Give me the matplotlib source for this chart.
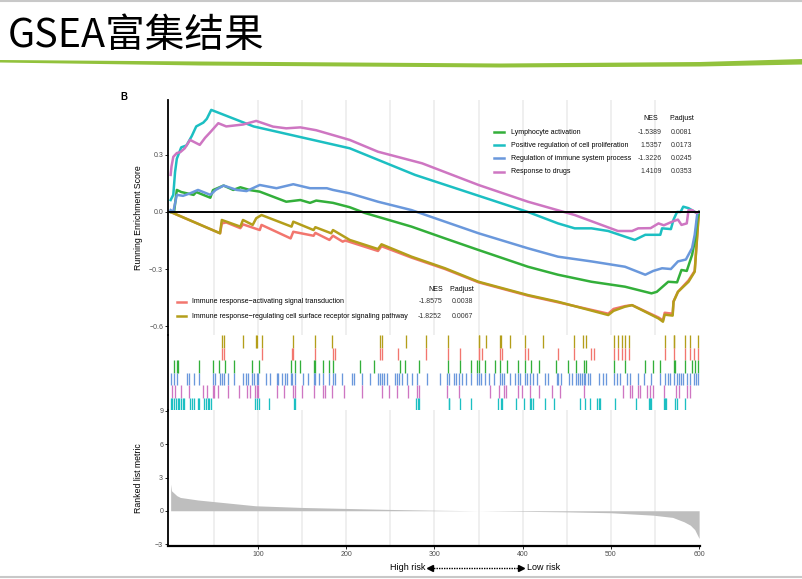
import matplotlib
matplotlib.use('Agg')
import matplotlib.pyplot as plt
from matplotlib.lines import Line2D
from matplotlib.patches import Polygon

plt.rcParams['font.family'] = ['Liberation Sans', 'DejaVu Sans']

W, H = 803, 579

# running enrichment score curves (rank, score)
green_x = [1, 5, 8, 13, 27, 30, 46, 49, 61, 72, 80, 91, 102, 132, 148, 159, 166, 185, 204, 221, 274, 312, 350,
           406, 440, 478, 516, 546, 552, 565, 575, 580, 586, 592, 595, 598, 600]
green_y = [0.0, 0.005, 0.116, 0.105, 0.09, 0.105, 0.075, 0.115, 0.139, 0.116, 0.13, 0.115, 0.107, 0.054, 0.063,
           0.048, 0.06, 0.048, 0.025, -0.005, -0.077, -0.139, -0.2, -0.288, -0.33, -0.367, -0.393, -0.428, -0.42,
           -0.367, -0.37, -0.305, -0.31, -0.226, -0.156, -0.033, 0.0]

cyan_x = [1, 4, 6, 8, 13, 19, 25, 30, 38, 42, 47, 95, 204, 278, 406, 440, 459, 478, 497, 527, 539, 556, 558,
          568, 571, 575, 579, 582, 588, 597, 600]
cyan_y = [0.063, 0.09, 0.21, 0.28, 0.34, 0.35, 0.40, 0.45, 0.47, 0.49, 0.537, 0.45, 0.335, 0.195, 0.0, -0.06,
          -0.086, -0.086, -0.10, -0.147, -0.12, -0.12, -0.086, -0.09, -0.04, 0.0, 0.0, 0.028, 0.02, -0.005, 0.0]

blue_x = [1, 4, 8, 15, 23, 32, 46, 52, 61, 76, 87, 102, 121, 140, 159, 178, 185, 204, 236, 274, 312, 350, 406,
          440, 478, 516, 539, 548, 558, 568, 576, 585, 592, 595, 598, 600]
blue_y = [0.01, 0.0, 0.09, 0.085, 0.098, 0.116, 0.09, 0.116, 0.139, 0.116, 0.11, 0.142, 0.125, 0.146, 0.125,
          0.125, 0.116, 0.098, 0.054, 0.01, -0.051, -0.112, -0.191, -0.235, -0.26, -0.288, -0.33, -0.31, -0.296,
          -0.30, -0.26, -0.25, -0.19, -0.12, -0.005, 0.0]

pink_x = [1, 2, 4, 8, 12, 17, 23, 34, 40, 46, 55, 64, 83, 98, 117, 132, 148, 166, 204, 236, 286, 350, 406, 459,
          508, 524, 531, 545, 554, 560, 570, 576, 580, 586, 588, 592, 597, 600]
pink_y = [0.195, 0.24, 0.29, 0.31, 0.315, 0.335, 0.379, 0.353, 0.39, 0.42, 0.467, 0.45, 0.46, 0.479, 0.449, 0.44,
          0.445, 0.43, 0.379, 0.317, 0.256, 0.142, 0.054, -0.016, -0.10, -0.10, -0.086, -0.085, -0.06, -0.07,
          -0.05, -0.04, -0.068, -0.06, 0.01, 0.01, -0.005, 0.0]

red_x = [1, 57, 59, 64, 80, 83, 102, 104, 137, 140, 163, 165, 181, 185, 196, 199, 236, 240, 274, 312, 350, 406,
         440, 497, 503, 516, 524, 554, 559, 561, 570, 571, 576, 588, 595, 599, 600]
red_y = [0.0, -0.112, -0.06, -0.055, -0.085, -0.065, -0.095, -0.068, -0.139, -0.104, -0.125, -0.11, -0.147,
         -0.125, -0.156, -0.15, -0.205, -0.18, -0.24, -0.30, -0.37, -0.44, -0.475, -0.535, -0.51, -0.495, -0.49,
         -0.555, -0.57, -0.53, -0.535, -0.47, -0.42, -0.36, -0.31, -0.04, 0.0]

olive_x = [1, 57, 59, 80, 83, 94, 98, 104, 138, 140, 163, 165, 183, 185, 204, 236, 240, 274, 312, 350, 406, 440,
           497, 503, 516, 524, 554, 559, 561, 570, 571, 576, 588, 595, 599, 600]
olive_y = [0.0, -0.112, -0.042, -0.077, -0.042, -0.068, -0.033, -0.016, -0.077, -0.051, -0.095, -0.08, -0.112,
           -0.095, -0.147, -0.195, -0.17, -0.235, -0.296, -0.367, -0.437, -0.472, -0.542, -0.52, -0.498, -0.49,
           -0.56, -0.577, -0.54, -0.545, -0.472, -0.42, -0.367, -0.314, -0.05, 0.0]

# hit positions per gene set
hits_olive = [59, 62, 83, 98, 99, 104, 140, 165, 184, 238, 240, 268, 290, 315, 350, 351, 358, 374, 376, 386, 403,
              423, 458, 468, 472, 503, 508, 513, 516, 521, 561, 571, 572, 584, 590, 599]
hits_red = [59, 62, 104, 138, 140, 165, 185, 187, 238, 240, 259, 290, 315, 329, 350, 351, 354, 374, 377, 403, 406,
            440, 458, 478, 481, 503, 508, 513, 516, 521, 561, 571, 584, 590, 594, 599]
hits_green = [5, 8, 9, 33, 49, 56, 63, 73, 93, 101, 137, 142, 148, 163, 165, 174, 180, 185, 216, 231, 261, 267,
              282, 315, 329, 342, 348, 351, 357, 369, 374, 382, 395, 403, 410, 418, 438, 451, 461, 470, 472, 504,
              516, 539, 548, 556, 571, 573, 584, 592, 595, 599]
hits_blue = [1, 5, 8, 19, 22, 27, 33, 49, 51, 57, 59, 61, 66, 73, 83, 86, 89, 93, 95, 99, 100, 109, 114, 121, 123,
             127, 131, 133, 137, 139, 142, 151, 157, 163, 165, 169, 174, 180, 185, 187, 195, 206, 209, 218, 227,
             236, 238, 240, 243, 246, 255, 258, 260, 263, 269, 274, 280, 291, 306, 314, 316, 322, 325, 328, 331,
             336, 342, 348, 351, 353, 357, 362, 368, 374, 377, 379, 386, 391, 395, 397, 403, 405, 408, 412, 416,
             425, 429, 439, 440, 444, 452, 456, 461, 463, 465, 467, 469, 471, 474, 476, 486, 491, 495, 503, 507,
             510, 518, 522, 531, 537, 546, 556, 561, 565, 567, 571, 575, 577, 580, 582, 586, 590, 594, 597, 599]
hits_pink = [3, 6, 13, 22, 38, 42, 49, 50, 55, 66, 78, 87, 91, 97, 99, 100, 121, 129, 140, 142, 150, 163, 174, 176,
             184, 197, 218, 240, 248, 257, 270, 280, 282, 314, 328, 363, 373, 379, 381, 395, 399, 408, 418, 433,
             442, 470, 514, 522, 524, 531, 533, 541, 544, 548, 560, 574, 577, 586, 590]
hits_cyan = [1, 3, 5, 7, 9, 11, 13, 15, 16, 23, 25, 27, 32, 33, 39, 41, 43, 45, 47, 97, 99, 101, 113, 141, 142,
             279, 281, 283, 316, 317, 329, 342, 372, 375, 377, 393, 401, 408, 410, 412, 425, 435, 465, 471, 476,
             484, 486, 488, 505, 529, 543, 544, 546, 560, 561, 563, 573, 575, 584]

# ranked list metric
metric_x = [1, 2, 8, 12, 32, 47, 97, 149, 199, 249, 300, 350, 400, 450, 500, 548, 570, 583, 590, 595, 600]
metric_y = [2.4, 1.8, 1.36, 1.2, 0.97, 0.85, 0.45, 0.3, 0.21, 0.12, 0.05, 0.0, -0.05, -0.1, -0.18, -0.4, -0.6,
            -1.0, -1.3, -1.7, -2.5]

legend_top = ['Lymphocyte activation', 'Positive regulation of cell proliferation',
              'Regulation of immune system process', 'Response to drugs']
nes_top = ['-1.5389', '1.5357', '-1.3226', '1.4109']
padj_top = ['0.0081', '0.0173', '0.0245', '0.0353']
legend_bot = ['Immune response\u2212activating signal transduction',
              'Immune response\u2212regulating cell surface receptor signaling pathway']
nes_bot = ['-1.8575', '-1.8252']
padj_bot = ['0.0038', '0.0067']

C_GREEN = '#33AF3A'
C_CYAN = '#1CBFC2'
C_BLUE = '#6A98DC'
C_PINK = '#CE76C2'
C_RED = '#F2766E'
C_OLIVE = '#B49E1A'


def fx(px):
    return px / W


def fy(py):
    return 1 - py / H


fig = plt.figure(figsize=(W / 100, H / 100), dpi=100)

# slide decoration
fig.add_artist(Line2D([0, 1], [fy(0.8), fy(0.8)], color='#C8C8C8', lw=1.5))
fig.add_artist(Line2D([0, 1], [fy(577), fy(577)], color='#C8C8C8', lw=1.5))
swoosh = [(0, 60), (200, 61.5), (500, 63.5), (700, 62), (803, 59),
          (803, 64.5), (700, 66.5), (500, 67.5), (200, 65.5), (0, 62.5)]
fig.add_artist(Polygon([(fx(a), fy(b)) for a, b in swoosh], closed=True, facecolor='#92C23C',
                       edgecolor='none', transform=fig.transFigure))
fig.text(fx(8), fy(36), 'GSEA富集结果', fontsize=28.5, va='center', ha='left',
         family=['Noto Sans CJK SC', 'DejaVu Sans'], color='black')
fig.text(fx(120), fy(97), 'B', fontsize=7, fontweight='bold', va='center', ha='left')

L, R = 168, 700
xlim = (-2, 601)

ax1 = fig.add_axes([fx(L), fy(335), (R - L) / W, 235 / H])
ax2 = fig.add_axes([fx(L), fy(410), (R - L) / W, 75 / H])
ax3 = fig.add_axes([fx(L), fy(546), (R - L) / W, 136 / H])

grid_x = [50, 100, 150, 200, 250, 300, 350, 400, 450, 500, 550]
for ax in (ax1, ax3):
    for g in grid_x:
        ax.axvline(g, color='#EBEBEB', lw=1.1, zorder=0)

# top panel
ax1.axhline(0, color='black', lw=1.4, zorder=3)
for xs, ys, c in [(red_x, red_y, C_RED), (olive_x, olive_y, C_OLIVE), (green_x, green_y, C_GREEN),
                  (blue_x, blue_y, C_BLUE), (cyan_x, cyan_y, C_CYAN), (pink_x, pink_y, C_PINK)]:
    ax1.plot(xs, ys, color=c, lw=1.8, zorder=2)
ax1.set_xlim(*xlim)
ax1.set_ylim(-0.647, 0.589)
ax1.set_yticks([-0.6, -0.3, 0.0, 0.3])
ax1.set_yticklabels(['\u22120.6', '\u22120.3', '0.0', '0.3'])
ax1.set_xticks([])
ax1.set_ylabel('Running Enrichment Score', fontsize=6.3)
ax1.yaxis.set_label_coords((143 - L) / (R - L), 0.5)

# rug panel
rows = [(hits_olive, C_OLIVE), (hits_red, C_RED), (hits_green, C_GREEN),
        (hits_blue, C_BLUE), (hits_pink, C_PINK), (hits_cyan, C_CYAN)]
for i, (hits, c) in enumerate(rows):
    top = 6 - i
    ax2.vlines(hits, top - 1, top, color=c, lw=0.95)
ax2.set_xlim(*xlim)
ax2.set_ylim(0, 6)
ax2.set_xticks([])
ax2.set_yticks([])

# ranked list metric
ax3.fill_between(metric_x, 0, metric_y, color='#BEBEBE', lw=0, zorder=2)
ax3.set_xlim(*xlim)
ax3.set_ylim(-3.18, 9.09)
ax3.set_yticks([-3, 0, 3, 6, 9])
ax3.set_yticklabels(['\u22123', '0', '3', '6', '9'])
ax3.set_xticks([100, 200, 300, 400, 500, 600])
ax3.set_ylabel('Ranked list metric', fontsize=6.3)
ax3.yaxis.set_label_coords((143 - L) / (R - L), 0.5)

for ax in (ax1, ax2, ax3):
    for s in ('top', 'right', 'bottom'):
        ax.spines[s].set_visible(False)
    ax.spines['left'].set_linewidth(1.3)
    ax.tick_params(labelsize=5, colors='black', labelcolor='#4D4D4D', length=2, width=0.6, pad=1.5)
    ax.set_facecolor('none')
ax3.spines['bottom'].set_visible(True)
ax3.spines['bottom'].set_linewidth(1.6)

# legends
top_cols = [C_GREEN, C_CYAN, C_BLUE, C_PINK]
fig.text(fx(651), fy(119), 'NES', fontsize=5, ha='center', va='center')
fig.text(fx(682), fy(119), 'P.adjust', fontsize=5, ha='center', va='center')
for i, (lab, n, p, c) in enumerate(zip(legend_top, nes_top, padj_top, top_cols)):
    y = 132 + i * 13.2
    fig.add_artist(Line2D([fx(494), fx(504)], [fy(y), fy(y)], color=c, lw=1.8))
    fig.text(fx(511), fy(y), lab, fontsize=5, ha='left', va='center')
    fig.text(fx(662), fy(y), n, fontsize=5, ha='right', va='center', color='#333333')
    fig.text(fx(692), fy(y), p, fontsize=5, ha='right', va='center', color='#333333')

bot_cols = [C_RED, C_OLIVE]
fig.text(fx(436), fy(289), 'NES', fontsize=5, ha='center', va='center')
fig.text(fx(462), fy(289), 'P.adjust', fontsize=5, ha='center', va='center')
for i, (lab, n, p, c) in enumerate(zip(legend_bot, nes_bot, padj_bot, bot_cols)):
    y = 301.5 + i * 14.5
    fig.add_artist(Line2D([fx(177), fx(186)], [fy(y), fy(y)], color=c, lw=1.8))
    fig.text(fx(192), fy(y), lab, fontsize=5, ha='left', va='center')
    fig.text(fx(442), fy(y), n, fontsize=5, ha='right', va='center', color='#333333')
    fig.text(fx(473), fy(y), p, fontsize=5, ha='right', va='center', color='#333333')

# x label with double arrow
fig.text(fx(425), fy(567.5), 'High risk', fontsize=6.5, ha='right', va='center')
fig.text(fx(527), fy(567.5), 'Low risk', fontsize=6.5, ha='left', va='center')
fig.add_artist(Line2D([fx(431), fx(519)], [fy(567.5), fy(567.5)], color='black', lw=1.0, ls=(0, (1, 0.8))))
fig.add_artist(Line2D([fx(430)], [fy(567.5)], marker='<', markersize=4, color='black', lw=0))
fig.add_artist(Line2D([fx(521)], [fy(567.5)], marker='>', markersize=4, color='black', lw=0))

fig.savefig('out.png', dpi=100)
